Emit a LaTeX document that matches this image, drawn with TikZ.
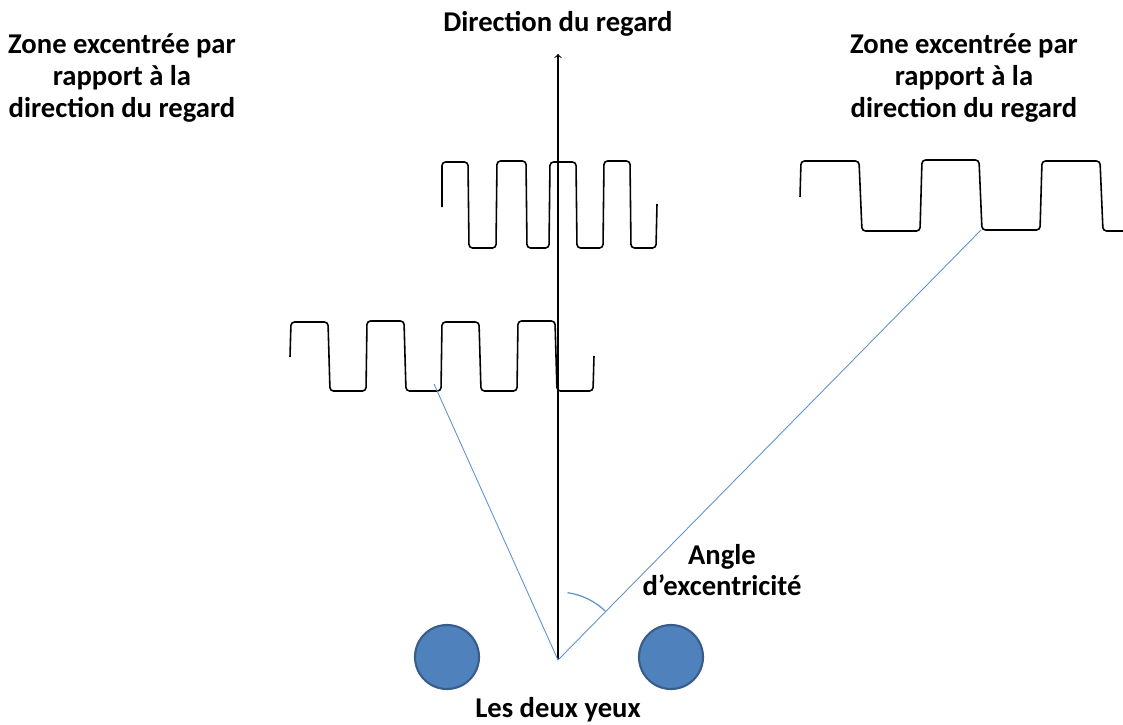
\documentclass[tikz,border=0pt]{standalone}
\usepackage{fontspec}
\setmainfont{Carlito}
\usepackage{tikz}
\usetikzlibrary{arrows,calc}

\definecolor{oeil}{RGB}{79,129,189}
\definecolor{oeilbord}{RGB}{56,93,138}
\definecolor{visee}{RGB}{96,146,205}

\tikzset{
	label/.style={font=\fontsize{16.3}{18}\selectfont\bfseries, align=center, inner sep=0pt},
	signal/.style={line width=0.9pt, rounded corners=2pt},
	eye/.style={circle, fill=oeil, draw=oeilbord, line width=1.2pt, minimum size=64*0.02cm, inner sep=0pt},
	ray/.style={visee, line width=0.5pt}
}

\begin{document}
\begin{tikzpicture}[x=0.02cm, y=-0.02cm]
\useasboundingbox (0,0) rectangle (1123,724);
%eyes
\node[eye] (eyeL) at (447,657) {};
\node[eye] (eyeR) at (671,657) {};
\coordinate (yeux) at (558,660);
\coordinate (haut) at (558,54);
\draw[->, line width=0.6pt] (yeux) -- (haut);
%wave 1 (near the axis)
\draw[signal] (442,207) -- (442,162) -- (468,162) -- (469,248) -- (496,248)
	-- (497,161) -- (526,161) -- (527,248) -- (549,248) -- (550,162)
	-- (576,162) -- (577,248) -- (603,248) -- (604,161) -- (630,161)
	-- (631,248) -- (656,248) -- (657,204);
%wave 2 (left)
\draw[signal] (290,357) -- (291,322) -- (328,322) -- (330,391) -- (366,391)
	-- (367,321) -- (404,321) -- (406,391) -- (441,391) -- (442,322)
	-- (479,322) -- (481,391) -- (517,391) -- (518,321) -- (555,321)
	-- (557,391) -- (593,391) -- (594,356);
%wave 3 (right)
\draw[signal] (800,197) -- (801,161) -- (859,161) -- (862,231) -- (920,231)
	-- (922,160) -- (979,160) -- (982,230) -- (1040,230) -- (1042,161)
	-- (1100,161) -- (1103,231) -- (1123,231);
%lines of sight
\coordinate (cibleG) at (434,384);
\coordinate (cibleD) at (981,230);
\draw[ray] (yeux) -- (cibleG);
\draw[ray] (yeux) -- (cibleD);
\draw[ray, line width=0.7pt] (yeux) ++(-82:68) arc[start angle=-82, end angle=-46, radius=68];
%texts
\node[label, anchor=base] (titre) at (558,31) {Direction du regard};
\node[label] (zoneG) at (122,78) {Zone excentrée par\\rapport à la\\direction du regard};
\node[label] (zoneD) at (964,78) {Zone excentrée par\\rapport à la\\direction du regard};
\node[label] (angle) at (722,570) {Angle\\d’excentricité};
\node[label, anchor=base] (yeuxtxt) at (558,717) {Les deux yeux};
\end{tikzpicture}
\end{document}
